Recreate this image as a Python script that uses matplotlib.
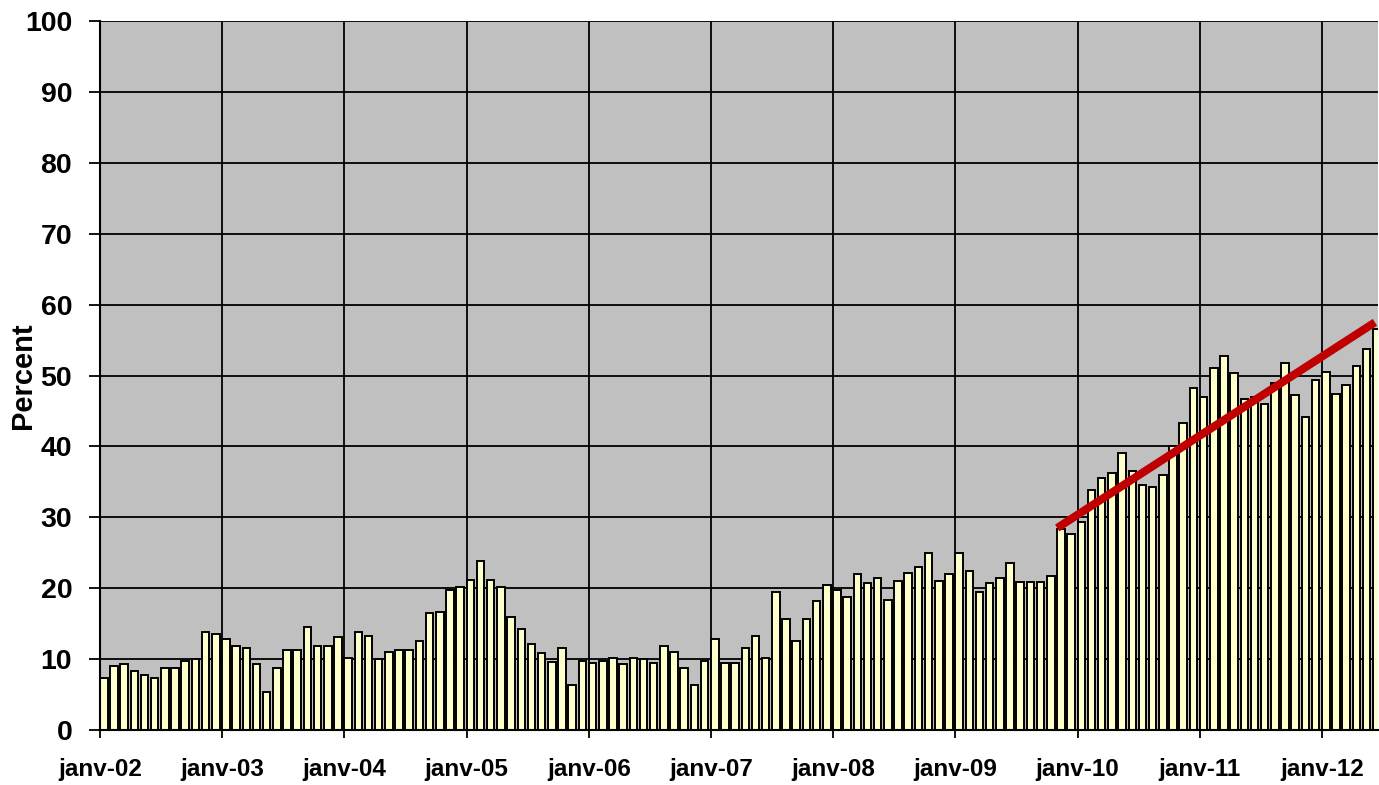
#!/usr/bin/env python3
import matplotlib
matplotlib.use('Agg')
import matplotlib.pyplot as plt
import numpy as np

# monthly values, janv-02 .. juin-12
pct_2002 = [7.3, 9.0, 9.3, 8.3, 7.8, 7.3, 8.8, 8.8, 9.8, 10.0, 13.8, 13.5]
pct_2003 = [12.8, 11.8, 11.5, 9.3, 5.3, 8.8, 11.3, 11.3, 14.5, 11.8, 11.8, 13.1]
pct_2004 = [10.2, 13.8, 13.2, 10.0, 11.0, 11.3, 11.3, 12.5, 16.5, 16.7, 19.8, 20.2]
pct_2005 = [21.2, 23.9, 21.2, 20.2, 15.9, 14.2, 12.2, 10.8, 9.6, 11.5, 6.3, 9.8]
pct_2006 = [9.5, 9.7, 10.2, 9.3, 10.2, 10.0, 9.5, 11.8, 11.0, 8.8, 6.3, 9.8]
pct_2007 = [12.8, 9.5, 9.5, 11.5, 13.3, 10.2, 19.4, 15.7, 12.6, 15.7, 18.2, 20.5]
pct_2008 = [19.7, 18.7, 22.0, 20.7, 21.5, 18.4, 21.0, 22.2, 23.0, 24.9, 21.0, 22.0]
pct_2009 = [24.9, 22.4, 19.4, 20.7, 21.5, 23.5, 20.9, 20.9, 20.9, 21.7, 28.3, 27.6]
pct_2010 = [29.3, 33.9, 35.6, 36.3, 39.1, 36.6, 34.6, 34.3, 35.9, 40.0, 43.3, 48.2]
pct_2011 = [47.0, 51.0, 52.7, 50.4, 46.7, 47.0, 46.0, 49.0, 51.7, 47.2, 44.2, 49.3]
pct_2012 = [50.5, 47.4, 48.7, 51.4, 53.7, 56.6]

values = (pct_2002 + pct_2003 + pct_2004 + pct_2005 + pct_2006 + pct_2007
          + pct_2008 + pct_2009 + pct_2010 + pct_2011 + pct_2012)

year_labels = ['janv-02', 'janv-03', 'janv-04', 'janv-05', 'janv-06', 'janv-07',
               'janv-08', 'janv-09', 'janv-10', 'janv-11', 'janv-12']

# red trend line, start / end (month index, percent)
trend_x = [94.0, 125.2]
trend_y = [28.5, 57.5]

plt.rcParams['font.family'] = ['Liberation Sans', 'DejaVu Sans']

fig = plt.figure(figsize=(13.79, 7.85), dpi=100)
ax = fig.add_axes([100 / 1379, 55 / 785, 1278 / 1379, 709 / 785])
ax.set_facecolor('#C0C0C0')

x = np.arange(len(values))
ax.bar(x, values, width=0.74, align='edge', color='#FFFFCC',
       edgecolor='black', linewidth=1.4, zorder=3)
ax.plot(trend_x, trend_y, color='#C00000', linewidth=5.8,
        solid_capstyle='butt', zorder=4)

ax.set_xlim(0, 125.5)
ax.set_ylim(0, 100)
ax.set_yticks(np.arange(0, 101, 10))
ax.set_xticks(np.arange(0, 121, 12))
ax.set_xticklabels(year_labels)

ax.grid(True, color='black', linewidth=1.3, zorder=1)
ax.set_axisbelow(True)

ax.tick_params(axis='y', direction='out', length=8, width=1.3, pad=12,
               labelsize=20.5)
ax.tick_params(axis='x', direction='out', length=6, width=1.3, pad=14,
               labelsize=17.5)
for lbl in ax.get_yticklabels() + ax.get_xticklabels():
    lbl.set_fontweight('bold')

for side in ['top', 'right']:
    ax.spines[side].set_visible(False)
for side in ['left', 'bottom']:
    ax.spines[side].set_linewidth(1.5)
    ax.spines[side].set_zorder(5)

ax.set_ylabel('Percent', fontsize=21, fontweight='bold')
ax.yaxis.set_label_coords(-0.049, 0.5)

fig.savefig('out.png', dpi=100)
